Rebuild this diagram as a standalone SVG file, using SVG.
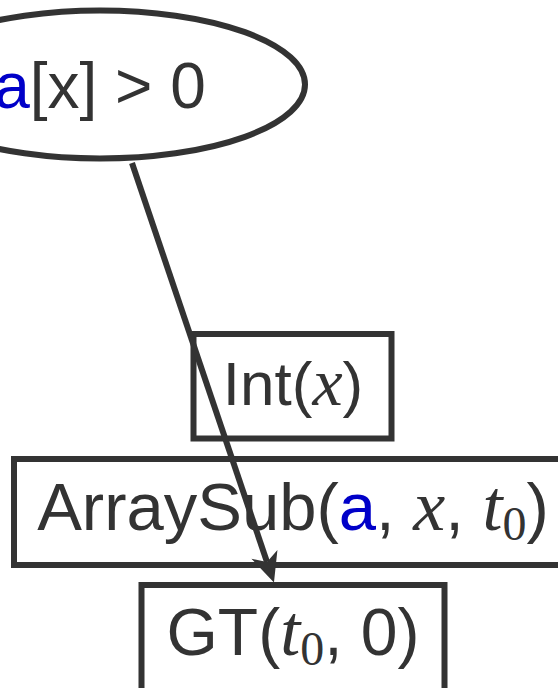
<svg xmlns="http://www.w3.org/2000/svg" width="558" height="688" viewBox="0 0 558 688">
<defs>
<style>
.shape{fill:#ffffff;stroke:#333333;stroke-width:6}
.lbl{font-family:"Liberation Sans",Arial,sans-serif;fill:#333333;text-anchor:middle}
.m{font-family:"Liberation Serif","Times New Roman",serif;font-style:italic}
.sub{font-family:"Liberation Serif","Times New Roman",serif;font-style:normal}
.blue{fill:#0000c8}
.edge{fill:none;stroke:#333333;stroke-width:6}
</style>
<marker id="arrow" markerUnits="userSpaceOnUse" markerWidth="40" markerHeight="40" viewBox="-10 -15 35 30" refX="0" refY="0" orient="auto">
<path d="M19,0 L-7,-12 L0,0 L-7,12 Z" fill="#333333"/>
</marker>
</defs>
<g id="node-cond">
<ellipse class="shape" cx="100" cy="84.5" rx="205" ry="74"/>
<text class="lbl" x="100" y="108" font-size="64"><tspan class="blue">a</tspan>[x] &gt; 0</text>
</g>
<g id="node-int">
<rect class="shape" x="193.5" y="334" width="198" height="104.5"/>
<text class="lbl" x="293" y="405" font-size="62">Int(<tspan class="m" font-size="68">x</tspan>)</text>
</g>
<g id="node-arraysub">
<rect class="shape" x="14" y="459" width="558" height="106"/>
<text class="lbl" x="293" y="530" font-size="67">ArraySub(<tspan class="blue">a</tspan>, <tspan class="m" font-size="72">x</tspan>, <tspan class="m" font-size="72">t</tspan><tspan class="sub" font-size="48" dy="10">0</tspan><tspan dy="-10">)</tspan></text>
</g>
<g id="node-gt">
<rect class="shape" x="141.5" y="585" width="303" height="120"/>
<text class="lbl" x="293" y="655" font-size="66">GT(<tspan class="m" font-size="72">t</tspan><tspan class="sub" font-size="48" dy="10">0</tspan><tspan dy="-10">, 0)</tspan></text>
</g>
<g id="connectors">
<path class="edge" d="M132,163 L267,562" marker-end="url(#arrow)"/>
</g>
</svg>
